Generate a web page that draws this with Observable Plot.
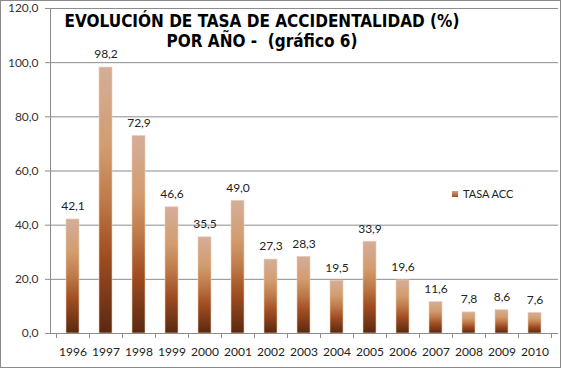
<!DOCTYPE html>
<html>
<head>
<meta charset="utf-8">
<script src="https://cdn.jsdelivr.net/npm/d3@7"></script>
<script src="https://cdn.jsdelivr.net/npm/@observablehq/plot@0.6"></script>
<style>
  html, body { margin: 0; padding: 0; background: #fff; }
  #wrap { position: relative; width: 563px; height: 369px; overflow: hidden; }
  #wrap svg { position: absolute; left: 0; top: 0; }
  #border { position: absolute; left: 0; top: 0; width: 561px; height: 368px; border: 1px solid #8a8a8a; box-sizing: border-box; pointer-events: none; }
  #title { position: absolute; left: 62px; width: 400px; top: 11px; text-align: center; white-space: pre;
    font-family: "DejaVu Sans Condensed", "DejaVu Sans", sans-serif; font-weight: bold; font-size: 17px; line-height: 20px; color: #000; }
  #legend { position: absolute; left: 452px; top: 187px; font-family: Lato, "Liberation Sans", sans-serif; font-size: 11px; color: #222; display: flex; align-items: center; }
  #legend span.sw { display: inline-block; width: 6px; height: 6px; margin-right: 5px; background: linear-gradient(#D4A27C, #9C4E22); }
</style>
</head>
<body>
<div id="wrap">
  <div id="border"></div>
</div>
<script>
const years = ["1996","1997","1998","1999","2000","2001","2002","2003","2004","2005","2006","2007","2008","2009","2010"];
const tasa = [42.1, 98.2, 72.9, 46.6, 35.5, 49.0, 27.3, 28.3, 19.5, 33.9, 19.6, 11.6, 7.8, 8.6, 7.6];
const yTicks = [0, 20, 40, 60, 80, 100, 120];
const titleLines = ["EVOLUCIÓN DE TASA DE ACCIDENTALIDAD (%)", "POR AÑO -  (gráfico 6)"];
const seriesName = "TASA ACC";

const data = years.map((y, i) => ({year: y, value: tasa[i]}));
const fmt = v => v.toFixed(1).replace(".", ",");

const defs = () => {
  const d = d3.create("svg:defs");
  const g = d.append("linearGradient").attr("id", "barGrad").attr("x1", 0).attr("y1", 0).attr("x2", 0).attr("y2", 1);
  [[0, "#D4AE9A"], [0.3, "#D29C6E"], [0.5, "#BE7A4A"], [0.7, "#A24E22"], [1, "#5A2810"]].forEach(([o, c]) =>
    g.append("stop").attr("offset", o).attr("stop-color", c));
  return d.node();
};

const xBoundaryTicks = (index, scales, values, dims) => {
  const x = scales.x;
  const step = x.step();
  const y0 = scales.y(0);
  const g = d3.create("svg:g").attr("stroke", "#8c8c8c").attr("stroke-width", 1);
  const xs = years.map(y => x(y) - step * x.paddingOuter()).concat([x(years[years.length - 1]) + x.bandwidth() + step * x.paddingOuter()]);
  xs.forEach(px => {
    const p = Math.round(px) + 0.5;
    g.append("line").attr("x1", p).attr("x2", p).attr("y1", y0).attr("y2", y0 + 5);
  });
  return g.node();
};

const chart = Plot.plot({
  width: 563,
  height: 369,
  marginLeft: 50,
  marginRight: 5,
  marginTop: 8,
  marginBottom: 36,
  style: {fontFamily: "Lato, 'Liberation Sans', sans-serif", fontSize: "12px", color: "#333", background: "transparent"},
  x: {domain: years, paddingInner: 0.6, paddingOuter: 0.3, axis: null, label: null},
  y: {domain: [0, 120], axis: null, label: null},
  marks: [
    defs,
    Plot.gridY(yTicks, {stroke: "#8c8c8c", strokeOpacity: 1, strokeWidth: 1}),
    Plot.axisY(yTicks, {tickSize: 5, tickPadding: 7, tickFormat: fmt, stroke: "#8c8c8c", fill: "#333", fontSize: 12, label: null}),
    Plot.axisX({tickSize: 0, tickPadding: 14, fill: "#222", fontSize: 12, label: null}),
    Plot.barY(data, {x: "year", y: "value", fill: "url(#barGrad)", stroke: "#F0CCB0", strokeWidth: 0.6}),
    Plot.ruleY([0], {stroke: "#8c8c8c"}),
    Plot.frame({anchor: "left", stroke: "#8c8c8c"}),
    xBoundaryTicks,
    Plot.text(data, {x: "year", y: "value", text: d => fmt(d.value), dy: -13, fill: "#222", fontSize: 12})
  ]
});

const wrap = document.getElementById("wrap");
wrap.insertBefore(chart, wrap.firstChild);

const title = document.createElement("div");
title.id = "title";
title.innerHTML = titleLines.map(t => `<div>${t}</div>`).join("");
wrap.appendChild(title);

const legend = document.createElement("div");
legend.id = "legend";
legend.innerHTML = `<span class="sw"></span><span>${seriesName}</span>`;
wrap.appendChild(legend);
</script>
</body>
</html>
